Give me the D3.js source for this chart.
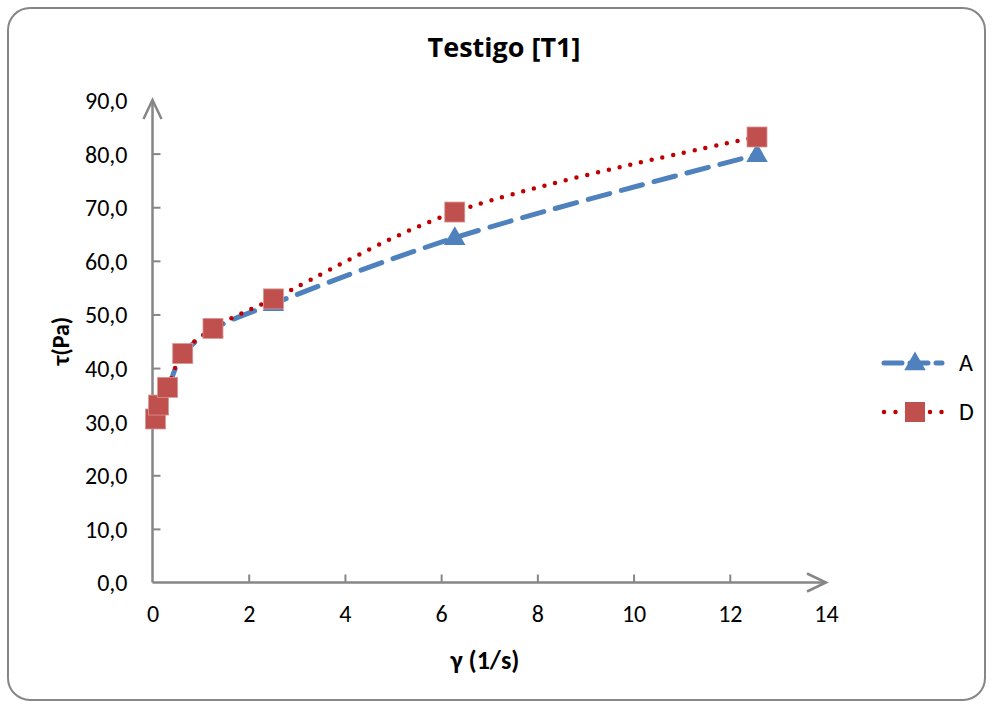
<!DOCTYPE html>
<html lang="es">
<head>
<meta charset="UTF-8">
<title>Testigo [T1]</title>
<script src="https://d3js.org/d3.v7.min.js"></script>
<style>
  body { margin: 0; background: #fff; }
</style>
</head>
<body>
<svg id="chart"></svg>
<script>
// shear rate (1/s)
var shearRate = [0.063, 0.126, 0.314, 0.628, 1.257, 2.513, 6.283, 12.566];
// shear stress (Pa)
var seriesA = [30.0, 32.6, 36.1, 42.5, 47.2, 52.0, 64.3, 79.8];
var seriesD = [30.5, 33.1, 36.4, 42.7, 47.4, 52.9, 69.1, 83.1];
var xTicks = [0, 2, 4, 6, 8, 10, 12, 14];
var yTicks = [0, 10, 20, 30, 40, 50, 60, 70, 80, 90];

var W = 992, H = 704;
var tickFont = "Carlito, Calibri, 'Open Sans', sans-serif";
var svg = d3.select("#chart").attr("width", W).attr("height", H);

// outer frame
svg.append("rect")
  .attr("x", 8).attr("y", 8).attr("width", 977).attr("height", 692)
  .attr("rx", 22).attr("ry", 22)
  .attr("fill", "#fff").attr("stroke", "#868686").attr("stroke-width", 2);

var xs = d3.scaleLinear().domain([0, 14]).range([152.5, 826]);
var ys = d3.scaleLinear().domain([0, 90]).range([582.5, 100]);

var axisColor = "#868686";

// x axis
var gx = svg.append("g").attr("transform", "translate(0," + ys(0) + ")")
  .call(d3.axisBottom(xs).tickValues(xTicks).tickSize(0).tickPadding(22).tickFormat(d3.format("d")));
gx.select(".domain").remove();
gx.selectAll(".tick").filter(function(d) { return d > 0 && d < 14; })
  .append("line").attr("y1", 0).attr("y2", -8).attr("stroke", axisColor).attr("stroke-width", 2);

// y axis
var gy = svg.append("g").attr("transform", "translate(" + xs(0) + ",0)")
  .call(d3.axisLeft(ys).tickValues(yTicks).tickSize(0).tickPadding(25)
    .tickFormat(function(d) { return d.toFixed(1).replace(".", ","); }));
gy.select(".domain").remove();
gy.selectAll(".tick").filter(function(d) { return d > 0 && d < 90; })
  .append("line").attr("x1", 0).attr("x2", 8).attr("stroke", axisColor).attr("stroke-width", 2);

svg.selectAll(".tick text")
  .style("font-family", tickFont).style("font-size", "24px").attr("fill", "#000");
gy.selectAll(".tick text").attr("dy", "0.35em");

// axis lines with open arrows
svg.append("line").attr("x1", xs(0)).attr("x2", xs(14)).attr("y1", ys(0)).attr("y2", ys(0))
  .attr("stroke", axisColor).attr("stroke-width", 2.5);
svg.append("polyline")
  .attr("points", [[xs(14) - 19, ys(0) - 9], [xs(14), ys(0)], [xs(14) - 19, ys(0) + 9]].join(" "))
  .attr("fill", "none").attr("stroke", axisColor).attr("stroke-width", 2.5);
svg.append("line").attr("x1", xs(0)).attr("x2", xs(0)).attr("y1", ys(0)).attr("y2", ys(90))
  .attr("stroke", axisColor).attr("stroke-width", 2.5);
svg.append("polyline")
  .attr("points", [[xs(0) - 9, ys(90) + 19], [xs(0), ys(90)], [xs(0) + 9, ys(90) + 19]].join(" "))
  .attr("fill", "none").attr("stroke", axisColor).attr("stroke-width", 2.5);

// title and axis titles
svg.append("text").attr("x", 504).attr("y", 57).attr("text-anchor", "middle")
  .style("font-family", "'Open Sans', Lato, sans-serif").style("font-weight", "bold").style("font-size", "27px")
  .text("Testigo [T1]");
svg.append("text").attr("x", 485).attr("y", 669).attr("text-anchor", "middle")
  .style("font-family", tickFont).style("font-weight", "bold").style("font-size", "26px")
  .text("γ (1/s)");
svg.append("text").attr("transform", "translate(69,341) rotate(-90)").attr("text-anchor", "middle")
  .style("font-family", tickFont).style("font-weight", "bold").style("font-size", "24px")
  .text("τ(Pa)");

var blue = "#4F81BD", red = "#C0504D", redLine = "#C00000";

function pts(vals) { return shearRate.map(function(x, i) { return [x, vals[i]]; }); }
var line = d3.line().x(function(d) { return xs(d[0]); }).y(function(d) { return ys(d[1]); })
  .curve(d3.curveCatmullRom);

// series A
svg.append("path").datum(pts(seriesA)).attr("d", line)
  .attr("fill", "none").attr("stroke", blue).attr("stroke-width", 5)
  .attr("stroke-dasharray", "22,12").attr("stroke-linecap", "round");
// series D
svg.append("path").datum(pts(seriesD)).attr("d", line)
  .attr("fill", "none").attr("stroke", redLine).attr("stroke-width", 4.5)
  .attr("stroke-dasharray", "0,11").attr("stroke-linecap", "round");

var tri = d3.symbol().type(d3.symbolTriangle).size(200);
svg.append("g").selectAll("path").data(pts(seriesA)).join("path")
  .attr("transform", function(d) { return "translate(" + xs(d[0]) + "," + (ys(d[1]) + 1) + ")"; })
  .attr("d", tri).attr("fill", blue);

svg.append("g").selectAll("rect").data(pts(seriesD)).join("rect")
  .attr("x", function(d) { return xs(d[0]) - 10; })
  .attr("y", function(d) { return ys(d[1]) - 10; })
  .attr("width", 20).attr("height", 20)
  .attr("fill", red).attr("stroke", "#D99694").attr("stroke-width", 0.8);

// legend
var legend = [
  { name: "A", y: 363 },
  { name: "D", y: 412 }
];
var lg = svg.append("g");
lg.append("line").attr("x1", 884).attr("x2", 942).attr("y1", 363).attr("y2", 363)
  .attr("stroke", blue).attr("stroke-width", 5).attr("stroke-dasharray", "18,8").attr("stroke-linecap", "round");
lg.append("path").attr("d", tri).attr("transform", "translate(915,364)").attr("fill", blue);
lg.append("line").attr("x1", 884).attr("x2", 946).attr("y1", 412).attr("y2", 412)
  .attr("stroke", redLine).attr("stroke-width", 4.5).attr("stroke-dasharray", "0,11.5").attr("stroke-linecap", "round");
lg.append("rect").attr("x", 905).attr("y", 402).attr("width", 20).attr("height", 20).attr("fill", red);
lg.selectAll("text").data(legend).join("text")
  .attr("x", 959).attr("y", function(d) { return d.y; }).attr("dy", "0.35em")
  .style("font-family", tickFont).style("font-size", "24px")
  .text(function(d) { return d.name; });
</script>
</body>
</html>
